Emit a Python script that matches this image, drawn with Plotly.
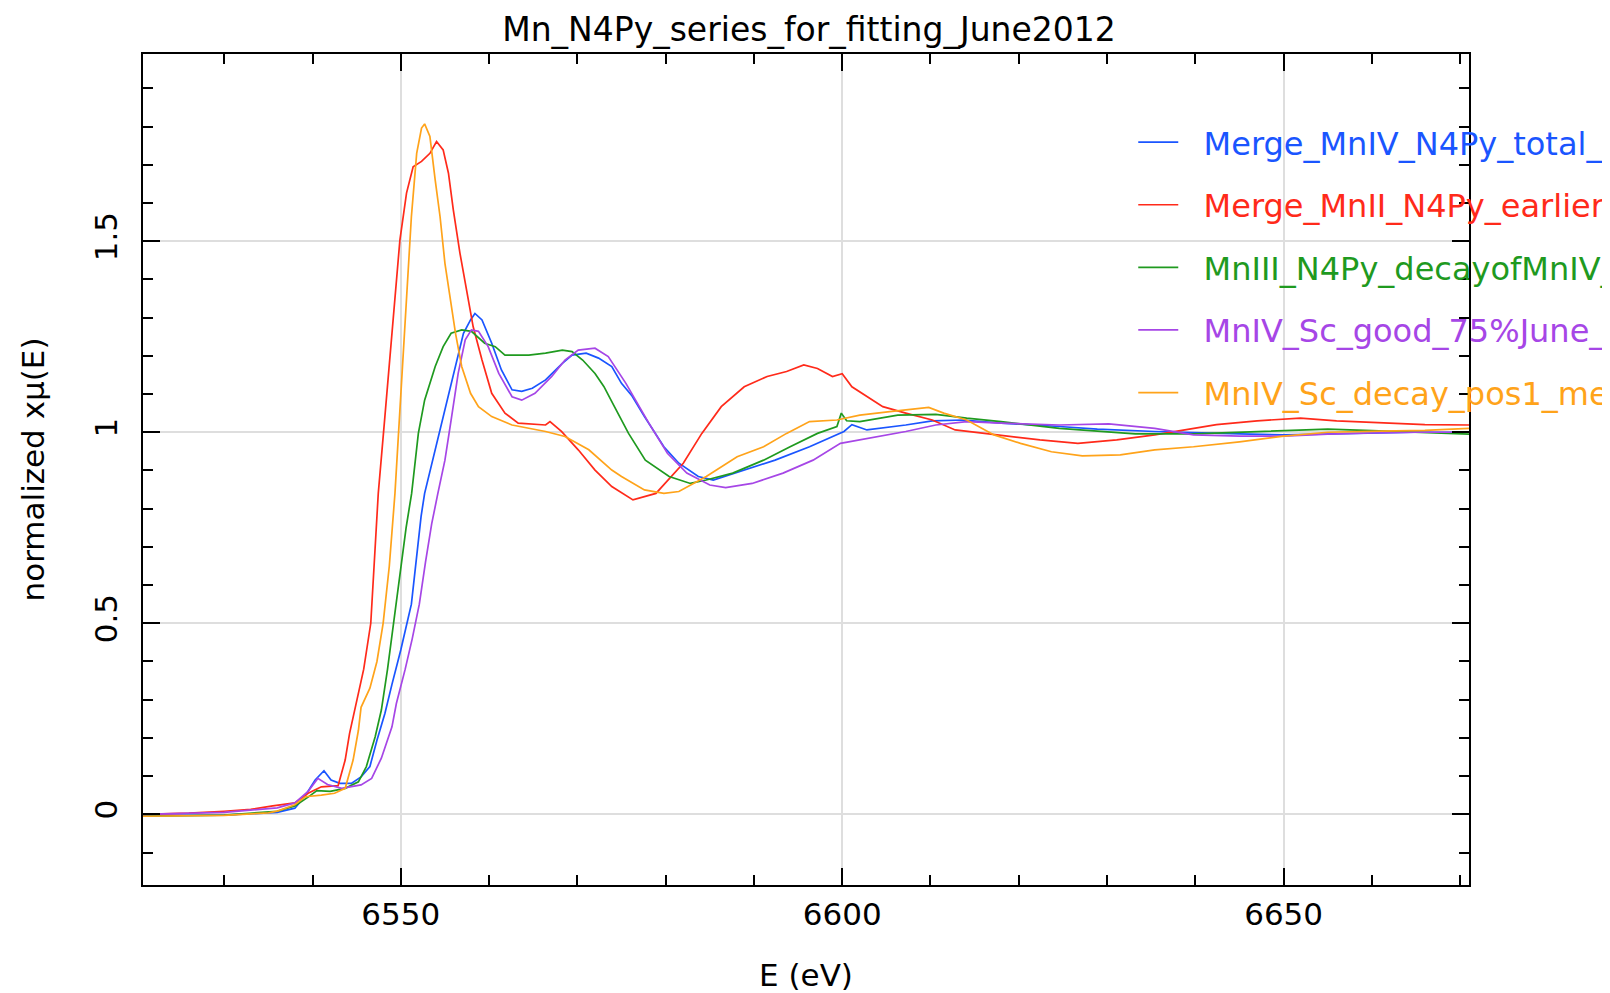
import plotly.graph_objects as go

# ---------------- data ----------------
names = [
    "Merge_MnIV_N4Py_total_",
    "Merge_MnII_N4Py_earlier_",
    "MnIII_N4Py_decayofMnIV_",
    "MnIV_Sc_good_75%June_",
    "MnIV_Sc_decay_pos1_me",
]
colors = ["#1a55ff", "#ff2a1a", "#1f9a1f", "#a646e6", "#ffa31a"]

blue_E = [6520.8, 6530, 6536, 6538.0, 6539.1, 6540.3, 6541.3, 6542.1, 6543.1, 6544.4, 6545.5, 6546.5,
          6547.3, 6548.2, 6549, 6550, 6551.2, 6551.8, 6552.3, 6552.7, 6553.9, 6555.0, 6556.2, 6557.1,
          6557.9, 6558.4, 6559.2, 6560.3, 6561.4, 6562.6, 6563.7, 6564.9, 6566.4, 6568.3, 6569.4, 6571.0,
          6572.4, 6573.9, 6575.0, 6576.2, 6577.6, 6579.8, 6581.5, 6583.7, 6585.4, 6588.9, 6592.4, 6596.3,
          6600.2, 6601.1, 6602.8, 6607.2, 6610.2, 6613.7, 6618.0, 6624.6, 6628.9, 6635.4, 6639.8, 6645,
          6650, 6655, 6660, 6665, 6671]
blue_y = [-0.003, -0.002, 0.005, 0.016, 0.046, 0.090, 0.114, 0.090, 0.081, 0.081, 0.098, 0.125,
          0.194, 0.264, 0.34, 0.43, 0.55, 0.68, 0.78, 0.84, 0.954, 1.058, 1.172, 1.259,
          1.294, 1.311, 1.294, 1.233, 1.163, 1.111, 1.107, 1.115, 1.137, 1.180, 1.202, 1.207,
          1.194, 1.172, 1.128, 1.095, 1.041, 0.962, 0.919, 0.884, 0.875, 0.901, 0.927, 0.962,
          1.002, 1.02, 1.006, 1.019, 1.030, 1.032, 1.024, 1.015, 1.008, 1.002, 1.0, 0.996,
          0.993, 0.995, 0.998, 1.0, 1.0]

red_E = [6520.8, 6526, 6530, 6533, 6535.5, 6538, 6539.5, 6541, 6542.9, 6543.7, 6544.2, 6544.8,
         6545.8, 6546.6, 6547.0, 6547.45, 6548.2, 6549.15, 6549.9, 6550.65, 6551.4, 6552.35, 6553.3,
         6554.05, 6554.8, 6555.4, 6555.95, 6556.7, 6557.5, 6558.2, 6559.2, 6560.3, 6561.8, 6563.3,
         6566.4, 6566.9, 6568.2, 6570.1, 6572.0, 6573.9, 6576.3, 6578.9, 6582.0, 6584.1, 6586.3,
         6588.9, 6591.5, 6593.7, 6595.65, 6597.2, 6598.9, 6600.0, 6601.1, 6602.8, 6604.6, 6607.2,
         6610.2, 6612.8, 6615.9, 6622.4, 6626.7, 6631.1, 6635.4, 6638.9, 6642.4, 6647, 6651.9, 6656,
         6661, 6666, 6671]
red_y = [0.0, 0.003, 0.008, 0.013, 0.022, 0.03, 0.055, 0.072, 0.075, 0.142, 0.212, 0.273,
         0.38, 0.5, 0.65, 0.84, 1.041, 1.303, 1.503, 1.626, 1.695, 1.709, 1.730,
         1.761, 1.739, 1.678, 1.582, 1.469, 1.364, 1.276, 1.189, 1.102, 1.050, 1.024,
         1.019, 1.028, 1.002, 0.954, 0.901, 0.858, 0.823, 0.840, 0.919, 0.997, 1.067,
         1.119, 1.146, 1.159, 1.176, 1.167, 1.146, 1.153, 1.119, 1.093, 1.067, 1.050,
         1.032, 1.006, 0.997, 0.980, 0.971, 0.980, 0.993, 1.006, 1.02, 1.03, 1.037, 1.03,
         1.025, 1.02, 1.019]

green_E = [6520.8, 6530, 6536, 6538, 6539.5, 6540.5, 6542, 6543.7, 6545.2, 6546.1, 6547.1, 6547.8,
           6548.5, 6549.2, 6550, 6550.6, 6551.23, 6551.99, 6552.7, 6553.9, 6554.8, 6555.7, 6556.9,
           6558.0, 6559.5, 6560.7, 6561.8, 6564.5, 6566.4, 6568.3, 6569.4, 6570.6, 6572.0, 6573.0,
           6574.2, 6575.8, 6577.7, 6580.4, 6582.8, 6584.6, 6587.6, 6591.1, 6594.1, 6597.2, 6599.4,
           6599.9, 6600.5, 6602.0, 6606.3, 6610.6, 6614.1, 6618.0, 6624.6, 6628.9, 6633.2, 6639.8,
           6645, 6650, 6655, 6660, 6665, 6671]
green_y = [-0.005, -0.002, 0.008, 0.022, 0.045, 0.062, 0.06, 0.068, 0.085, 0.125, 0.203, 0.273,
           0.38, 0.5, 0.64, 0.75, 0.84, 0.997, 1.084, 1.172, 1.224, 1.259, 1.268,
           1.264, 1.233, 1.224, 1.202, 1.202, 1.207, 1.215, 1.211, 1.189, 1.154, 1.12,
           1.067, 0.997, 0.927, 0.884, 0.866, 0.875, 0.893, 0.927, 0.962, 0.997, 1.015,
           1.050, 1.03, 1.028, 1.045, 1.047, 1.037, 1.028, 1.010, 1.002, 0.996, 0.996,
           1.0, 1.005, 1.008, 1.004, 1.0, 0.995]

purple_E = [6520.8, 6530, 6536, 6538, 6539.5, 6540.6, 6541.7, 6543.3, 6545.5, 6546.7, 6547.8, 6549.0,
            6549.5, 6550.5, 6551.3, 6552.1, 6552.8, 6553.5, 6554.2, 6555.0, 6555.7, 6556.5, 6557.3,
            6558.0, 6558.8, 6559.9, 6561.1, 6562.6, 6563.7, 6565.2, 6567.1, 6568.6, 6570.1, 6572.0,
            6573.5, 6575.5, 6578.1, 6580.2, 6582.4, 6585.0, 6586.8, 6589.8, 6593.3, 6596.7, 6599.8,
            6602.8, 6607.2, 6610.6, 6614.1, 6618.0, 6624.6, 6630.2, 6635.4, 6639.8, 6645, 6650, 6655,
            6660, 6665, 6671]
purple_y = [0.0, 0.005, 0.017, 0.03, 0.06, 0.094, 0.078, 0.068, 0.077, 0.094, 0.147, 0.229,
            0.29, 0.38, 0.46, 0.55, 0.66, 0.76, 0.84, 0.927, 1.032, 1.154, 1.242,
            1.268, 1.264, 1.224, 1.154, 1.093, 1.084, 1.102, 1.146, 1.189, 1.215, 1.220,
            1.198, 1.128, 1.024, 0.945, 0.893, 0.862, 0.855, 0.866, 0.893, 0.927, 0.971,
            0.984, 1.002, 1.019, 1.028, 1.024, 1.019, 1.022, 1.010, 0.993, 0.99, 0.99, 0.995,
            0.998, 1.0, 1.0]

orange_E = [6520.8, 6530, 6535, 6536.1, 6538, 6539.2, 6541, 6542.5, 6543.7, 6544.6, 6545.2, 6545.5,
            6546.5, 6547.3, 6548, 6548.7, 6549.34, 6550.09, 6550.65, 6551.2, 6551.8, 6552.35, 6552.7,
            6553.3, 6553.9, 6554.45, 6555.0, 6555.6, 6556.2, 6556.9, 6557.9, 6558.8, 6560.3, 6562.6,
            6566.4, 6568.6, 6571.3, 6573.9, 6575.0, 6577.6, 6579.8, 6581.5, 6584.6, 6588.1, 6591.1,
            6593.7, 6596.3, 6599.4, 6602.0, 6605.4, 6609.8, 6611.5, 6614.1, 6617.2, 6620.2, 6623.7,
            6627.2, 6631.5, 6635.4, 6639.8, 6645, 6650, 6655, 6661, 6666, 6671]
orange_y = [-0.005, -0.003, 0.004, 0.009, 0.025, 0.046, 0.05, 0.055, 0.068, 0.142, 0.22, 0.28,
            0.33, 0.40, 0.5, 0.65, 0.84, 1.128, 1.346, 1.564, 1.730, 1.796, 1.807,
            1.774, 1.660, 1.564, 1.442, 1.346, 1.259, 1.172, 1.102, 1.067, 1.041, 1.019,
            1.002, 0.989, 0.954, 0.901, 0.884, 0.849, 0.840, 0.845, 0.884, 0.936, 0.962,
            0.997, 1.028, 1.032, 1.045, 1.054, 1.065, 1.050, 1.032, 0.993, 0.971, 0.949,
            0.938, 0.941, 0.954, 0.962, 0.975, 0.99, 1.0, 1.003, 1.005, 1.01]

x_range = [6520.8, 6671.0]
y_range = [-0.185, 1.99]
x_tickvals = [6550, 6600, 6650]
y_tickvals = [0, 0.5, 1, 1.5]
y_ticktext = ["0", "0.5", "1", "1.5"]

series = [(blue_E, blue_y), (red_E, red_y), (green_E, green_y), (purple_E, purple_y), (orange_E, orange_y)]

# ---------------- figure ----------------
FONT = "DejaVu Sans"
fig = go.Figure()
for i, ((ex, ey), nm, col) in enumerate(zip(series, names, colors)):
    label = f"<span style='color:{col}'>\u00a0\u00a0{nm}</span>"
    fig.add_trace(go.Scatter(x=ex, y=ey, mode="lines", name=label, legendgroup=f"g{i}",
                             line=dict(color=col, width=1.7)))

axis_common = dict(
    showline=True, linecolor="black", linewidth=2, mirror="allticks",
    ticks="inside", tickcolor="black", tickwidth=2, ticklen=17,
    showgrid=True, gridcolor="#dedede", gridwidth=1.5, zeroline=False,
    automargin=False,
    tickfont=dict(family=FONT, size=31, color="black"),
)

fig.update_xaxes(range=x_range, tickvals=x_tickvals, ticklabelstandoff=1,
                 minor=dict(dtick=10, tick0=6500, ticks="inside", ticklen=10, tickwidth=1.5,
                            tickcolor="black", showgrid=False),
                 title=dict(text="E (eV)", font=dict(family=FONT, size=31, color="black"), standoff=33),
                 **axis_common)
fig.update_yaxes(range=y_range, tickvals=y_tickvals, ticktext=y_ticktext, tickangle=-90,
                 ticklabelstandoff=12,
                 minor=dict(dtick=0.1, tick0=0, ticks="inside", ticklen=10, tickwidth=1.5,
                            tickcolor="black", showgrid=False),
                 title=dict(text="normalized x\u03bc(E)", font=dict(family=FONT, size=31, color="black"),
                            standoff=34),
                 **axis_common)

# the page body keeps its default 8px margin, so the figure is 8px smaller than the window
W, H = 1602, 985
fig.update_layout(
    width=W, height=H,
    margin=dict(l=135, r=141, t=46, b=108, autoexpand=False),
    paper_bgcolor="white", plot_bgcolor="white",
    title=dict(text="Mn_N4Py_series_for_fitting_June2012", x=0.5, xanchor="center",
               y=1 - 21 / H, yanchor="middle", yref="container",
               font=dict(family=FONT, size=33, color="black")),
    legend=dict(x=0.7468, y=0.9268, xanchor="left", yanchor="top", bgcolor="rgba(0,0,0,0)",
                borderwidth=0, itemwidth=40, tracegroupgap=18,
                font=dict(family=FONT, size=32)),
    showlegend=True,
)

fig.write_html("out.html")
